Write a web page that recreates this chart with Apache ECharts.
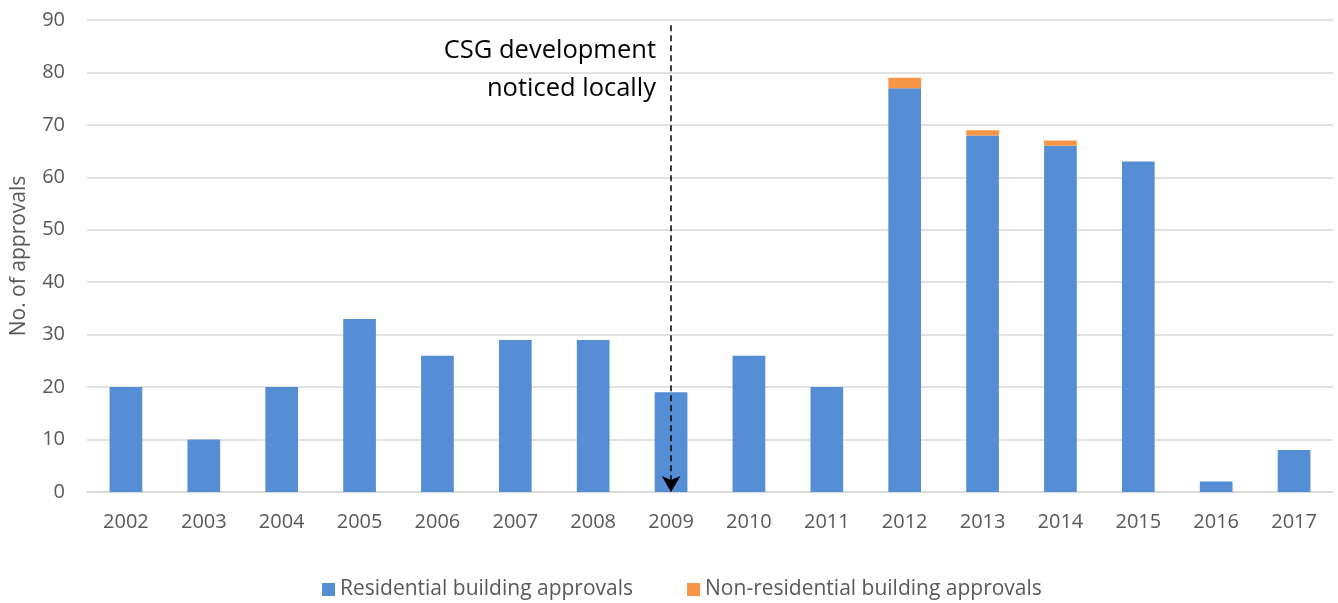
<!DOCTYPE html>
<html>
<head>
<meta charset="utf-8">
<script src="https://cdn.jsdelivr.net/npm/echarts@6/dist/echarts.min.js"></script>
<style>
  html, body { margin: 0; padding: 0; background: #fff; }
  #chart { width: 1338px; height: 603px; }
</style>
</head>
<body>
<div id="chart"></div>
<script>
const years = ['2002', '2003', '2004', '2005', '2006', '2007', '2008', '2009',
  '2010', '2011', '2012', '2013', '2014', '2015', '2016', '2017']
const residential = [20, 10, 20, 33, 26, 29, 29, 19, 26, 20, 77, 68, 66, 63, 2, 8]
const nonResidential = [0, 0, 0, 0, 0, 0, 0, 0, 0, 0, 2, 1, 1, 0, 0, 0]
const noticedYear = '2009'
const noticedText = 'CSG development\nnoticed locally'

const font = "'Open Sans', sans-serif"
const grey = '#595959'

const chart = echarts.init(document.getElementById('chart'))

chart.setOption({
  backgroundColor: '#fff',
  animation: false,
  textStyle: { fontFamily: font },
  grid: { left: 87, right: 5, top: 20, bottom: 111 },
  legend: {
    top: 574,
    left: 317,
    itemWidth: 13,
    itemHeight: 13,
    itemGap: 54,
    icon: 'rect',
    textStyle: { color: grey, fontSize: 21, fontFamily: font }
  },
  xAxis: {
    type: 'category',
    data: years,
    axisLine: { lineStyle: { color: '#d9d9d9', width: 1.5 } },
    axisTick: { show: false },
    axisLabel: { color: grey, fontSize: 20, margin: 20, fontFamily: font }
  },
  yAxis: {
    type: 'value',
    min: 0,
    max: 90,
    interval: 10,
    name: 'No. of approvals',
    nameLocation: 'middle',
    nameGap: 57,
    nameTextStyle: { color: grey, fontSize: 21, fontFamily: font },
    axisLine: { show: false },
    axisTick: { show: false },
    axisLabel: { color: grey, fontSize: 20, margin: 22, fontFamily: font },
    splitLine: { lineStyle: { color: '#d9d9d9', width: 1.5 } }
  },
  series: [
    {
      name: 'Residential building approvals',
      type: 'bar',
      stack: 'total',
      barWidth: '42%',
      data: residential,
      itemStyle: { color: '#558ed5' },
      markLine: {
        silent: true,
        symbol: ['none', 'arrow'],
        symbolSize: [14, 16],
        label: { show: false },
        lineStyle: { color: '#000', type: [6, 4], width: 1.5 },
        data: [[{ coord: [noticedYear, 89] }, { coord: [noticedYear, 0] }]]
      }
    },
    {
      name: 'Non-residential building approvals',
      type: 'bar',
      stack: 'total',
      barWidth: '42%',
      data: nonResidential,
      itemStyle: { color: '#f79646' }
    }
  ],
  graphic: [{
    type: 'text',
    x: 656,
    y: 32,
    style: {
      text: noticedText,
      fill: '#000',
      font: "25.5px 'Open Sans', sans-serif",
      align: 'right',
      verticalAlign: 'top',
      lineHeight: 38
    }
  }]
})
</script>
</body>
</html>
